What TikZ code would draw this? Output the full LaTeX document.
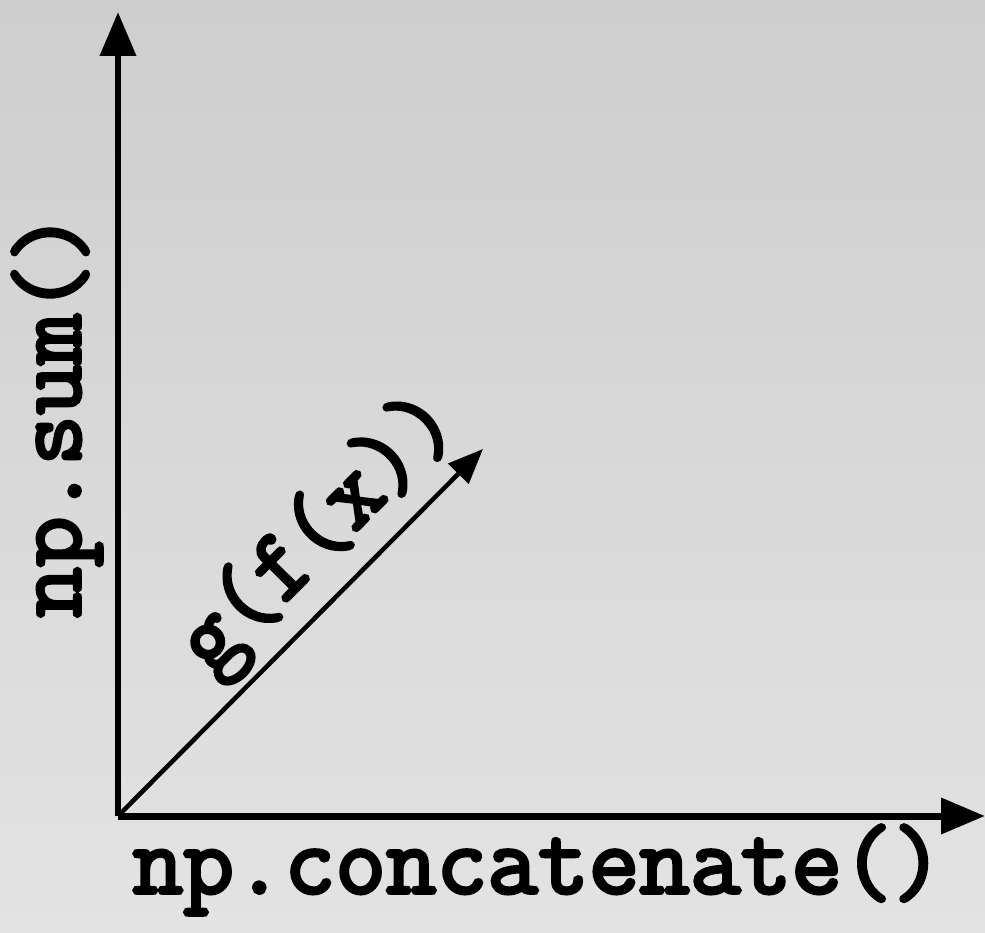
\documentclass[tikz,border=0pt]{standalone}
\usepackage{fontspec}
\setmonofont[AutoFakeBold=3.5]{Latin Modern Mono}
\usetikzlibrary{arrows.meta,positioning}
\definecolor{bgtop}{HTML}{CECECE}
\definecolor{bgbot}{HTML}{E3E3E3}

\begin{document}
\begin{tikzpicture}[x=0.02cm, y=-0.02cm, >=Triangle,
    every node/.style={font=\ttfamily\bfseries\fontsize{56}{64}\selectfont},
    axis/.style={line width=0.14cm, arrows={-Triangle[length=0.88cm, width=0.7cm]}},
    diag/.style={line width=0.09cm, arrows={-Triangle[length=0.7cm, width=0.56cm]}}]
  % background
  \shade[top color=bgtop, bottom color=bgbot] (0,0) rectangle (985,933);
  \useasboundingbox (0,0) rectangle (985,933);

  \coordinate (o) at (118,816);
  \coordinate (ytip) at (118,12);
  \coordinate (xtip) at (985,816);
  \coordinate (dtip) at (483,449);

  \draw[axis] (o) -- (ytip);
  \draw[axis] (o) -- (xtip);
  \draw[diag] (o) -- (dtip) node[pos=0.66, sloped, above, inner sep=4pt] (glabel) {g(f(x))};

  \node (xlabel) at (538,870) {np.concatenate()};
  \node[rotate=90] (ylabel) at (57,415) {np.sum()};
\end{tikzpicture}
\end{document}
